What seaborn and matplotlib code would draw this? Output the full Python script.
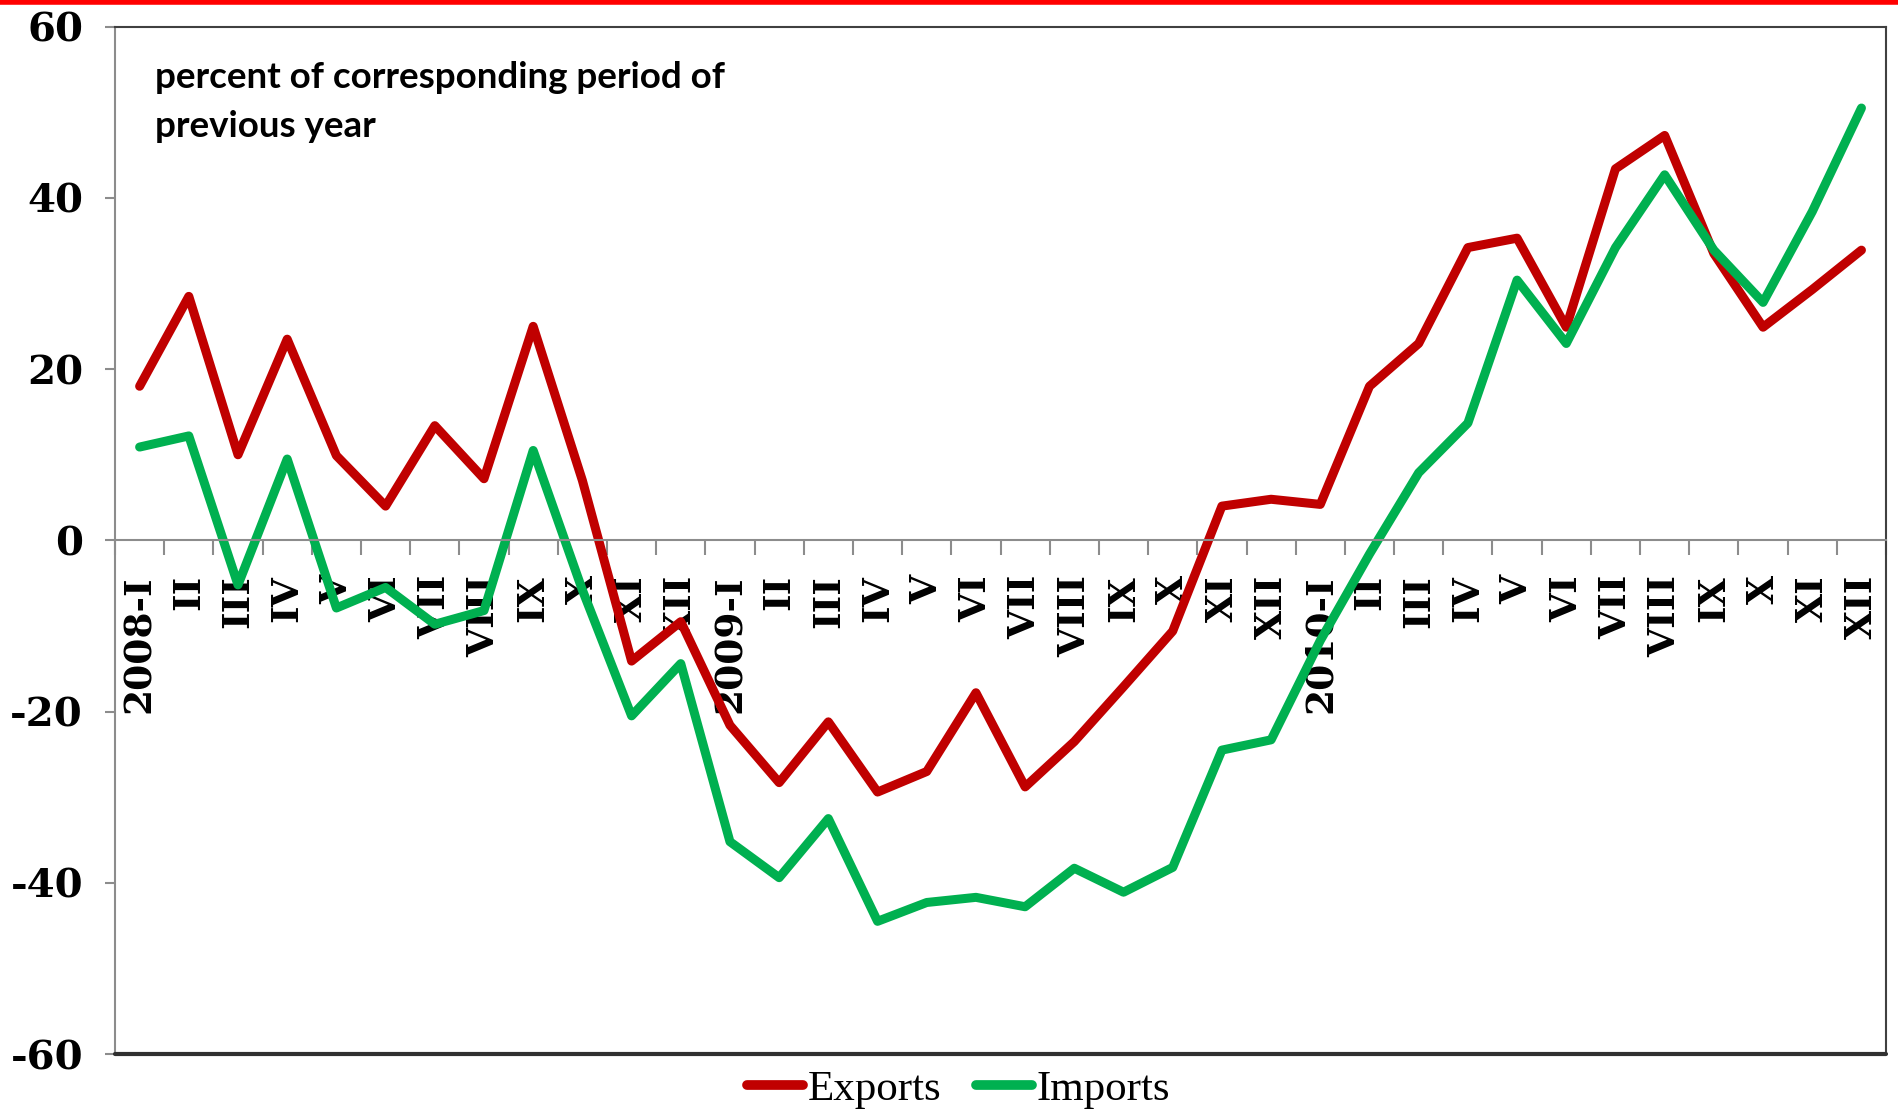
import numpy as np
import pandas as pd
import matplotlib
matplotlib.use("Agg")
import matplotlib.pyplot as plt
import seaborn as sns

# dane: dynamika eksportu i importu (% analogicznego okresu roku poprzedniego)
months = ["2008-I", "II", "III", "IV", "V", "VI", "VII", "VIII", "IX", "X", "XI", "XII",
          "2009-I", "II", "III", "IV", "V", "VI", "VII", "VIII", "IX", "X", "XI", "XII",
          "2010-I", "II", "III", "IV", "V", "VI", "VII", "VIII", "IX", "X", "XI", "XII"]

exports = [18.0, 28.5, 10.0, 23.5, 9.9, 4.0, 13.4, 7.2, 25.0, 7.0, -14.1, -9.5,
           -21.6, -28.3, -21.2, -29.4, -27.0, -17.8, -28.8, -23.5, -17.1, -10.6, 4.0, 4.8,
           4.2, 18.0, 23.0, 34.2, 35.3, 24.9, 43.4, 47.3, 33.5, 24.9, 29.3, 33.9]

imports = [10.9, 12.2, -5.2, 9.5, -7.9, -5.5, -9.8, -8.2, 10.5, -5.8, -20.5, -14.4,
           -35.2, -39.4, -32.5, -44.5, -42.3, -41.7, -42.8, -38.3, -41.1, -38.2, -24.5, -23.3,
           -11.7, -1.6, 7.9, 13.7, 30.4, 23.0, 34.2, 42.7, 33.9, 27.8, 38.4, 50.5]

series_names = ["Exports", "Imports"]
colors = {"Exports": "#C00000", "Imports": "#00B050"}
y_ticks = [-60, -40, -20, 0, 20, 40, 60]

df = pd.DataFrame({"idx": np.arange(len(months)), "Exports": exports, "Imports": imports})
long_df = df.melt(id_vars="idx", value_vars=series_names, var_name="series", value_name="value")

sns.set_theme(style="white")

fig = plt.figure(figsize=(18.98, 11.13), dpi=100)
ax = fig.add_axes([0.0606, 0.053, 0.9331, 0.923])

sns.lineplot(data=long_df, x="idx", y="value", hue="series", palette=colors,
             linewidth=6.5, ax=ax, legend=False, sort=False)

ax.set_xlim(-0.5, len(months) - 0.5)
ax.set_ylim(-60, 60)
ax.set_xlabel("")
ax.set_ylabel("")

# os X w zerze, podzialki pomiedzy kategoriami
ax.spines["bottom"].set_position(("data", 0))
ax.spines["bottom"].set_color("#8c8c8c")
ax.spines["bottom"].set_linewidth(1.5)
ax.spines["left"].set_color("#8c8c8c")
ax.spines["left"].set_linewidth(1.5)
ax.spines["top"].set_color("#404040")
ax.spines["top"].set_linewidth(1.5)
ax.spines["right"].set_color("#404040")
ax.spines["right"].set_linewidth(1.5)
ax.axhline(-60, color="#303030", lw=3, clip_on=False, zorder=5)

ax.set_xticks(np.arange(len(months) + 1) - 0.5)
ax.set_xticklabels([])
ax.set_xticks(np.arange(len(months)), minor=True)
ax.set_xticklabels(months, minor=True, rotation=90, va="top", ha="center",
                   fontfamily="DejaVu Serif", fontweight="heavy", fontsize=27)
ax.tick_params(axis="x", which="major", bottom=True, direction="out", length=11,
               width=1.5, color="#8c8c8c")
ax.tick_params(axis="x", which="minor", bottom=True, length=0, pad=25,
               labelcolor="black")

ax.set_yticks(y_ticks)
ax.set_yticklabels([str(v) for v in y_ticks], fontfamily="DejaVu Serif",
                   fontweight="heavy", fontsize=29)
ax.tick_params(axis="y", left=True, direction="out", length=7, width=1.5,
               color="#8c8c8c", pad=16, labelcolor="black")

ax.text(0.0226, 0.967, "percent of corresponding period of\nprevious year",
        transform=ax.transAxes, ha="left", va="top", fontsize=26.5,
        fontfamily="Lato", fontweight="bold", linespacing=1.62, color="black")

# czerwony pasek na gorze
fig.add_artist(plt.Line2D([0, 1], [0.9985, 0.9985], transform=fig.transFigure,
                          color="#FF0000", lw=4))

handles = [plt.Line2D([], [], color=colors[s], lw=7, solid_capstyle="round") for s in series_names]
leg = fig.legend(handles, series_names, loc="center", bbox_to_anchor=(0.505, 0.021),
                 ncol=2, frameon=False, handlelength=1.3, handletextpad=0.1,
                 columnspacing=0.8, prop={"family": "Liberation Serif", "size": 31})
for t in leg.get_texts():
    t.set_color("black")

fig.savefig("out.png", dpi=100)
